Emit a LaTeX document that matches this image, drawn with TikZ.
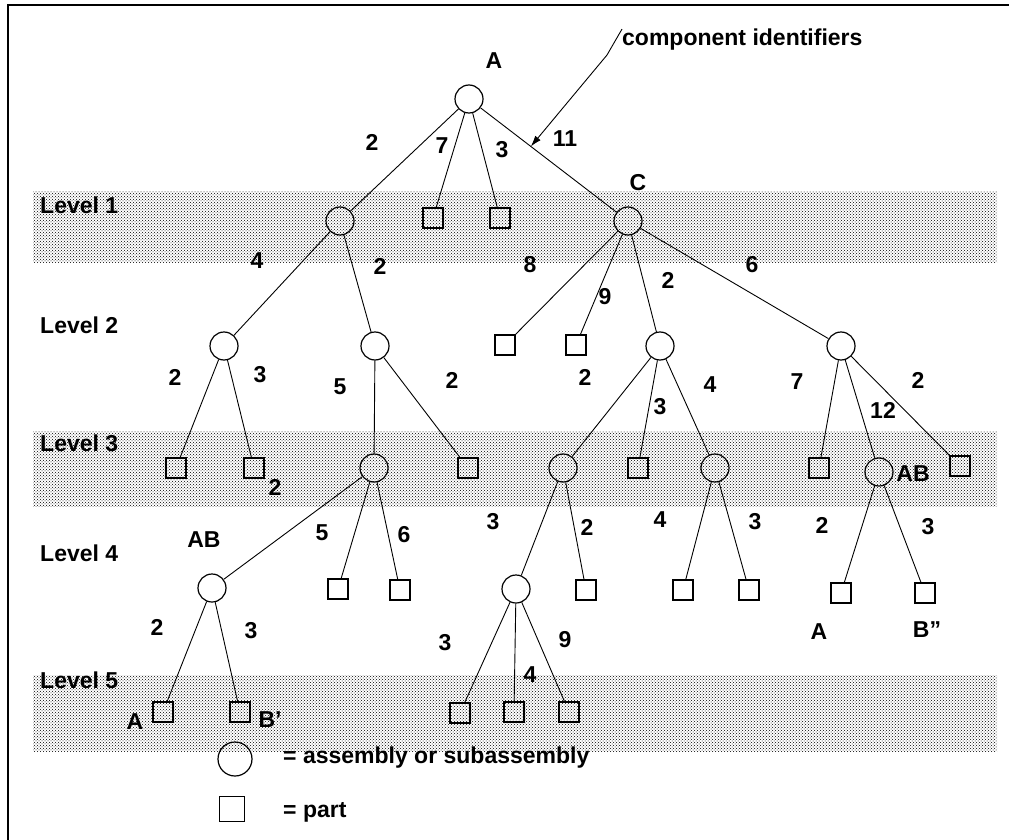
\documentclass[tikz,border=0pt]{standalone}
\usepackage{fontspec}
\setmainfont{Liberation Sans}
\usetikzlibrary{patterns,arrows.meta}

\tikzset{
  assy/.style={circle,draw,line width=1.2,minimum size=28,inner sep=0},
  part/.style={rectangle,draw,line width=1.2,minimum size=20,inner sep=0},
  lbl/.style={font=\fontsize{23}{27}\selectfont\bfseries,inner sep=0},
  band/.style={pattern=crosshatch dots,pattern color=black},
  link/.style={line width=0.9},
}

\begin{document}
\begin{tikzpicture}[x=1pt,y=-1pt]
\useasboundingbox (0,0) rectangle (1009,840);

\draw[line width=2] (8,840) -- (8,5) -- (1009,5);

% shaded levels
\path[band] (33,191) rectangle (997,262);
\path[band] (33,431) rectangle (997,506);
\path[band] (33,675) rectangle (997,751);

\node[lbl,anchor=west] (lev1) at (40,205) {Level 1};
\node[lbl,anchor=west] (lev2) at (40,325) {Level 2};
\node[lbl,anchor=west] (lev3) at (40,443) {Level 3};
\node[lbl,anchor=west] (lev4) at (40,553) {Level 4};
\node[lbl,anchor=west] (lev5) at (40,680) {Level 5};

% assemblies
\node[assy] (A) at (469,99) {};
\node[assy] (b1) at (340,221) {};
\node[assy] (C) at (628,221) {};
\node[assy] (b2) at (224,346) {};
\node[assy] (b3) at (375,346) {};
\node[assy] (b4) at (660,346) {};
\node[assy] (b5) at (841,346) {};
\node[assy] (b6) at (374,468) {};
\node[assy] (b7) at (563,468) {};
\node[assy] (b8) at (715,468) {};
\node[assy] (b9) at (879,472) {};
\node[assy] (b10) at (212,588) {};
\node[assy] (b11) at (516,589) {};

% parts
\node[part] (p1) at (433,218) {};
\node[part] (p2) at (500,218) {};
\node[part] (p3) at (505,345) {};
\node[part] (p4) at (576,345) {};
\node[part] (p5) at (176,468) {};
\node[part] (p6) at (254,468) {};
\node[part] (p7) at (468,468) {};
\node[part] (p8) at (638,468) {};
\node[part] (p9) at (819,468) {};
\node[part] (p10) at (960,466) {};
\node[part] (p11) at (338,589) {};
\node[part] (p12) at (400,590) {};
\node[part] (p13) at (586,590) {};
\node[part] (p14) at (683,590) {};
\node[part] (p15) at (749,590) {};
\node[part] (p16) at (841,593) {};
\node[part] (p17) at (925,593) {};
\node[part] (p18) at (163,712) {};
\node[part] (p19) at (240,712) {};
\node[part] (p20) at (460,713) {};
\node[part] (p21) at (514,712) {};
\node[part] (p22) at (569,712) {};

\foreach \u/\v in {A/b1, A/p1, A/p2, A/C,
    b1/b2, b1/b3, C/p3, C/p4, C/b4, C/b5,
    b2/p5, b2/p6, b3/b6, b3/p7, b4/b7, b4/p8, b4/b8, b5/p9, b5/b9, b5/p10,
    b6/b10, b6/p11, b6/p12, b7/b11, b7/p13, b8/p14, b8/p15, b9/p16, b9/p17,
    b10/p18, b10/p19, b11/p20, b11/p21, b11/p22}
  \draw[link] (\u) -- (\v);

% quantities per link
\foreach \x/\y/\t [count=\i] in {372/142/2, 442/146/7, 502/150/3, 565/139/11,
    257/261/4, 380/266/2, 530/265/8, 605/297/9, 668/280/2, 752/265/6,
    175/377/2, 260/375/3, 340/387/5, 452/380/2, 585/377/2, 660/407/3,
    710/385/4, 797/382/7, 883/410/12, 918/380/2,
    275/487/2, 322/533/5, 404/535/6, 493/522/3, 587/527/2, 660/520/4,
    755/522/3, 822/525/2, 928/527/3,
    157/627/2, 251/631/3, 445/643/3, 530/675/4, 565/640/9}
  \node[lbl] (qty\i) at (\x,\y) {\t};

% identifiers
\node[lbl] (idA) at (494,61) {A};
\node[lbl] (idC) at (638,183) {C};
\node[lbl] (idAB1) at (913,474) {AB};
\node[lbl] (idAB2) at (204,540) {AB};
\node[lbl] (idA2) at (819,632) {A};
\node[lbl] (idB2) at (927,630) {B”};
\node[lbl] (idA3) at (135,722) {A};
\node[lbl] (idB3) at (270,720) {B’};

\node[lbl,anchor=west] (note) at (622,40) {component identifiers};
\path (A) -- (C) coordinate[pos=0.37] (tip);
\coordinate (bend) at (607,55);
\draw[link,-{Latex[length=11,width=7]}] (note.north west) -- (bend) -- (tip);

% legend
\node[assy,minimum size=34] (keyassy) at (235,759) {};
\node[lbl,anchor=west] (keyassytxt) at (283,758) {= assembly or subassembly};
\node[part,minimum size=25] (keypart) at (232,809) {};
\node[lbl,anchor=west] (keyparttxt) at (283,812) {= part};
\end{tikzpicture}
\end{document}
